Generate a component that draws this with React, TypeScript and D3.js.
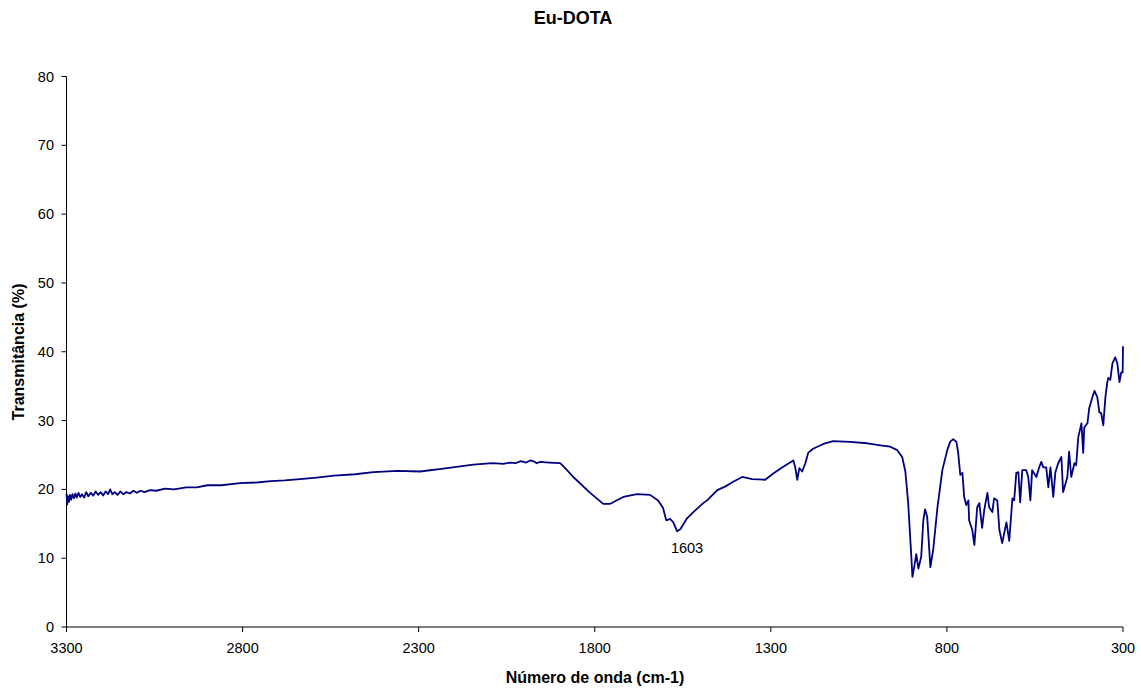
import React from 'react';
import * as d3 from 'd3';

// wavenumber (cm-1)
const waveNumbers = [
  3300, 3298, 3296, 3293, 3290, 3287, 3283, 3279, 3275, 3271, 3266, 3261, 3256, 3250, 3244, 3238,
  3231, 3224, 3217, 3210, 3203, 3196, 3189, 3182, 3176, 3170, 3163, 3155, 3147, 3139, 3130, 3120,
  3110, 3100, 3090, 3078, 3063, 3045, 3020, 2995, 2960, 2930, 2900, 2860, 2807, 2760, 2720, 2680,
  2637, 2590, 2540, 2480, 2429, 2360, 2296, 2230, 2145, 2090, 2060, 2040, 2025, 2010, 1995, 1983,
  1970, 1965, 1955, 1930, 1898, 1884, 1861, 1813, 1776, 1756, 1719, 1680, 1643, 1620, 1606, 1597,
  1586, 1577, 1566, 1557, 1538, 1520, 1492, 1481, 1452, 1430, 1407, 1381, 1353, 1316, 1293, 1265,
  1236, 1231, 1225, 1219, 1211, 1202, 1194, 1180, 1151, 1123, 1075, 1026, 989, 961, 941, 927, 918,
  910, 901, 898, 893, 887, 881, 873, 867, 862, 856, 847, 839, 827, 813, 799, 791, 782, 773, 768,
  762, 756, 751, 745, 739, 737, 728, 722, 714, 708, 700, 694, 685, 680, 671, 666, 657, 651, 643,
  631, 623, 614, 609, 603, 597, 592, 586, 575, 569, 563, 558, 546, 538, 532, 526, 518, 512, 506,
  498, 492, 484, 475, 470, 458, 453, 447, 438, 433, 427, 418, 413, 410, 401, 396, 387, 381, 373,
  367, 362, 356, 350, 345, 342, 336, 330, 322, 316, 310, 305, 301, 300,
];

// transmittance (%) at each wavenumber
const transmittance = [
  19.4, 17.8, 19.0, 18.2, 19.2, 18.5, 19.3, 18.7, 19.4, 18.8, 19.5, 18.9, 19.3, 18.8, 19.6, 19.0,
  19.5, 19.1, 19.7, 19.2, 19.6, 19.1, 19.7, 19.3, 20.0, 19.3, 19.6, 19.2, 19.7, 19.3, 19.6, 19.4,
  19.8, 19.5, 19.8, 19.6, 19.9, 19.8, 20.1, 20.0, 20.3, 20.3, 20.6, 20.6, 20.9, 21.0, 21.2, 21.3,
  21.5, 21.7, 22.0, 22.2, 22.5, 22.7, 22.6, 23.0, 23.6, 23.8, 23.7, 23.9, 23.8, 24.1, 23.9, 24.2,
  24.0, 23.8, 24.0, 23.9, 23.8, 23.1, 21.8, 19.5, 17.9, 17.9, 18.9, 19.3, 19.2, 18.4, 17.3, 15.5,
  15.7, 15.2, 13.9, 14.2, 15.8, 16.7, 18.0, 18.4, 19.9, 20.4, 21.1, 21.8, 21.5, 21.4, 22.3, 23.3,
  24.2, 23.3, 21.4, 23.1, 22.6, 23.8, 25.3, 25.9, 26.6, 27.0, 26.9, 26.7, 26.4, 26.2, 25.7, 24.7,
  22.6, 18.0, 10.2, 7.3, 8.7, 10.6, 8.5, 10.2, 15.5, 17.1, 16.0, 8.7, 11.2, 17.3, 22.8, 25.7, 26.9,
  27.3, 26.9, 25.3, 22.1, 22.4, 18.9, 17.7, 18.4, 15.5, 14.1, 11.9, 17.4, 18.0, 14.4, 17.0, 19.5,
  17.4, 16.7, 18.7, 18.4, 14.1, 12.2, 15.2, 12.5, 18.7, 18.4, 22.4, 22.5, 18.1, 22.8, 22.8, 21.8,
  18.4, 22.8, 21.8, 23.2, 24.0, 23.2, 23.2, 20.3, 23.2, 18.9, 22.5, 23.8, 24.7, 19.6, 21.8, 25.5,
  21.8, 23.8, 23.5, 27.6, 29.6, 25.3, 29.0, 29.6, 31.8, 33.4, 34.3, 33.4, 31.2, 31.1, 29.3, 33.4,
  35.4, 36.2, 35.9, 38.3, 39.2, 38.3, 35.6, 37.0, 37.0, 40.8,
];

const xTicks = [3300, 2800, 2300, 1800, 1300, 800, 300];
const yTicks = [0, 10, 20, 30, 40, 50, 60, 70, 80];

const peakLabels = [{ text: '1603', wn: 1538, t: 10.7 }];

const width = 1141;
const height = 690;
const margin = { left: 66.5, right: 18, top: 76.5, bottom: 63 };
const font = 'Arial, "Liberation Sans", sans-serif';

export default function App() {
  const x = d3.scaleLinear().domain([3300, 300]).range([margin.left, width - margin.right]);
  const y = d3.scaleLinear().domain([0, 80]).range([height - margin.bottom, margin.top]);

  const points = waveNumbers.map((wn, i) => [wn, transmittance[i]] as [number, number]);
  const line = d3
    .line<[number, number]>()
    .x((d) => x(d[0]))
    .y((d) => y(d[1]));

  const y0 = y(0);

  return (
    <svg
      width={width}
      height={height}
      style={{ position: 'absolute', left: 0, top: 0, background: '#fff' }}
      fontFamily={font}
    >
      <text x={573} y={24} textAnchor="middle" fontSize={18} fontWeight="bold">
        Eu-DOTA
      </text>

      {/* y axis */}
      <line x1={margin.left} x2={margin.left} y1={y(80)} y2={y0} stroke="#000" />
      {yTicks.map((t) => (
        <g key={t}>
          <line x1={margin.left - 5} x2={margin.left} y1={y(t)} y2={y(t)} stroke="#000" />
          <text x={54} y={y(t) + 5} textAnchor="end" fontSize={14.5}>
            {t}
          </text>
        </g>
      ))}

      {/* x axis */}
      <line x1={x(3300)} x2={x(300)} y1={y0} y2={y0} stroke="#000" />
      {xTicks.map((t) => (
        <g key={t}>
          <line x1={x(t)} x2={x(t)} y1={y0} y2={y0 + 5} stroke="#000" />
          <text x={x(t)} y={y0 + 26} textAnchor="middle" fontSize={14.5}>
            {t}
          </text>
        </g>
      ))}

      <path d={line(points) ?? ''} fill="none" stroke="#000080" strokeWidth={1.8} strokeLinejoin="round" />

      {peakLabels.map((p) => (
        <text key={p.text} x={x(p.wn)} y={y(p.t)} textAnchor="middle" fontSize={14.5}>
          {p.text}
        </text>
      ))}

      <text x={595} y={683} textAnchor="middle" fontSize={16} fontWeight="bold">
        Número de onda (cm-1)
      </text>
      <text
        transform={`translate(24, 352) rotate(-90)`}
        textAnchor="middle"
        fontSize={16}
        fontWeight="bold"
      >
        Transmitância (%)
      </text>
    </svg>
  );
}
